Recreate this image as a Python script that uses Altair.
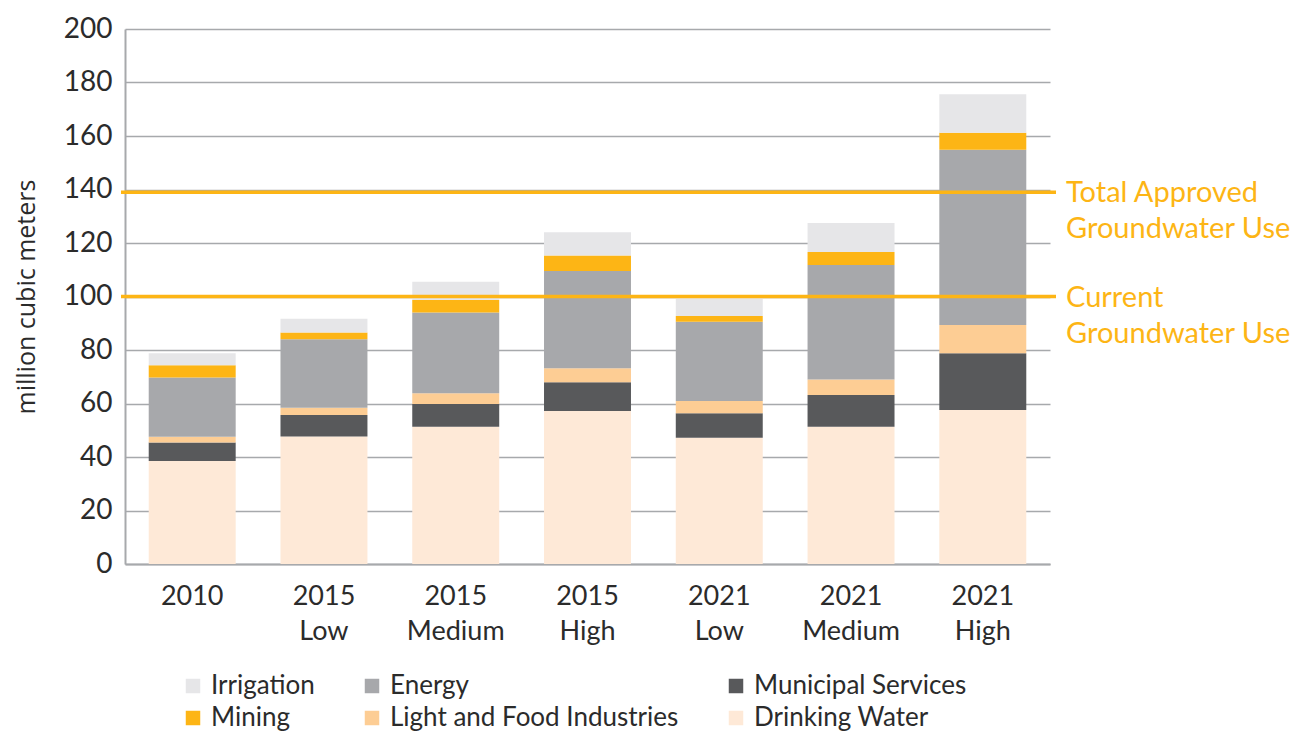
import altair as alt
import pandas as pd

categories = ["2010", "2015\nLow", "2015\nMedium", "2015\nHigh", "2021\nLow", "2021\nMedium", "2021\nHigh"]
drinking = [38.5, 47.7, 51.3, 57.2, 47.2, 51.3, 57.6]
municipal = [6.9, 8.0, 8.5, 10.7, 9.2, 11.9, 21.2]
light_food = [2.2, 2.7, 4.0, 5.3, 4.5, 5.8, 10.5]
energy = [22.1, 25.6, 30.2, 36.3, 29.7, 42.8, 65.6]
mining = [4.6, 2.5, 4.7, 5.8, 2.1, 4.8, 6.3]
irrigation = [4.5, 5.2, 6.8, 8.7, 6.4, 10.9, 14.4]

series_names = ["Drinking Water", "Municipal Services", "Light and Food Industries", "Energy", "Mining", "Irrigation"]
series_values = [drinking, municipal, light_food, energy, mining, irrigation]
legend_order = ["Irrigation", "Energy", "Municipal Services", "Mining", "Light and Food Industries", "Drinking Water"]
legend_colors = ["#E6E6E8", "#A7A8AB", "#58595B", "#FDB515", "#FDCD94", "#FEE9D7"]

ref_values = [139, 100]
ref_labels = ["Total Approved|Groundwater Use", "Current|Groundwater Use"]

rows = []
for si, (name, vals) in enumerate(zip(series_names, series_values)):
    for c, v in zip(categories, vals):
        rows.append({"cat": c, "series": name, "value": v, "order": si})
df = pd.DataFrame(rows)
ref_df = pd.DataFrame({"value": ref_values, "label": ref_labels})

FONT = "Lato"
ORANGE = "#FDB515"
TXT = "#2b2b2b"

x_enc = alt.X("cat:N", sort=categories, title=None,
              scale=alt.Scale(paddingInner=0.34, paddingOuter=0.18),
              axis=alt.Axis(labelExpr="split(datum.label, '\\n')", labelAngle=0,
                            labelFontSize=27, labelLineHeight=35, labelColor=TXT,
                            labelFont=FONT, ticks=False, labelPadding=19,
                            domainColor="#a7a9ac", domainWidth=2))

bars = alt.Chart(df).mark_bar().encode(
    x=x_enc,
    y=alt.Y("sum(value):Q", title="million cubic meters",
            scale=alt.Scale(domain=[0, 200]),
            axis=alt.Axis(values=list(range(0, 201, 20)), labelFontSize=28,
                          labelColor=TXT, labelFont=FONT, ticks=False,
                          labelPadding=13, titleFontSize=25, titleFont="Open Sans",
                          titleFontWeight="normal", titleColor=TXT,
                          titlePadding=24, gridColor="#a7a9ac", gridWidth=1.5,
                          domainColor="#a7a9ac", domainWidth=2)),
    color=alt.Color("series:N", scale=alt.Scale(domain=legend_order, range=legend_colors),
                    legend=alt.Legend(title=None, orient="none", legendX=55, legendY=644,
                                      columns=3, columnPadding=44, rowPadding=6,
                                      direction="horizontal", gridAlign="each",
                                      symbolType="square", symbolSize=210,
                                      symbolStrokeWidth=0, labelFontSize=26,
                                      labelFont=FONT, labelColor=TXT,
                                      labelLimit=400, symbolOffset=0, labelOffset=5)),
    order=alt.Order("order:Q", sort="ascending"),
)

rules = alt.Chart(ref_df).mark_rule(color=ORANGE, strokeWidth=3.5).encode(
    y="value:Q",
    x=alt.value(-4),
    x2=alt.value(931),
)

texts = alt.Chart(ref_df).mark_text(
    align="left", baseline="alphabetic", lineBreak="|", lineHeight=36,
    fontSize=29, font=FONT, color=ORANGE, dy=10,
).encode(
    y="value:Q",
    x=alt.value(941),
    text="label:N",
)

chart = alt.layer(bars, rules, texts).properties(
    width=925, height=535,
    autosize=alt.AutoSizeParams(type="none"),
    padding={"left": 117, "top": 21, "right": 240, "bottom": 170},
).configure_view(stroke=None).configure_axis(grid=False).configure_axisY(grid=True)

chart.save("out.html", embed_options={"renderer": "svg", "actions": False})
